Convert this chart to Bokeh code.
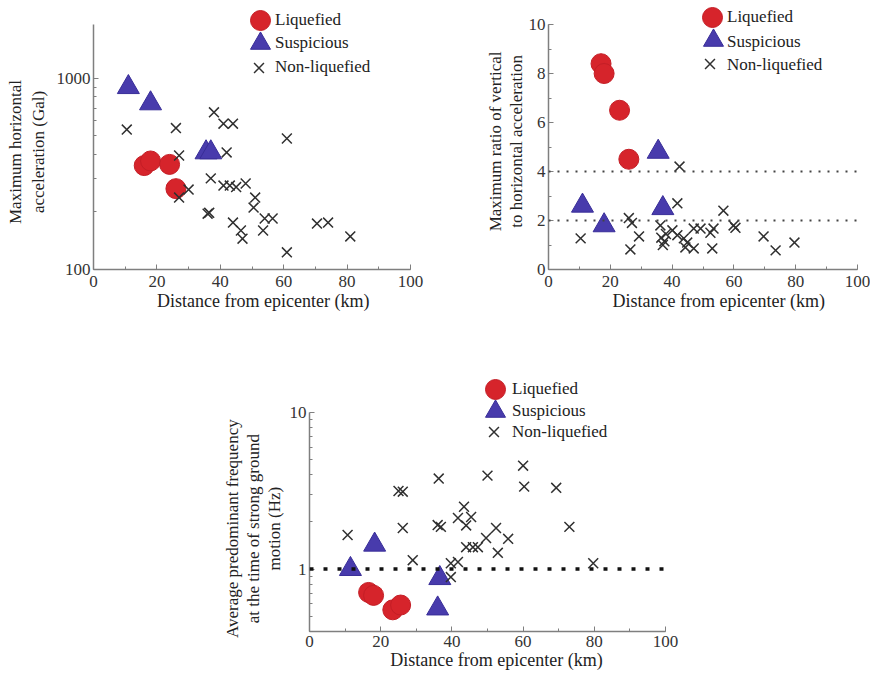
from bokeh.plotting import figure
from bokeh.models import Legend, LegendItem, Span, Range1d, FixedTicker, SingleIntervalTicker, NumeralTickFormatter
from bokeh.layouts import column, row
from bokeh.embed import file_html
from bokeh.resources import INLINE

FONT = "'Liberation Serif', 'Times New Roman', serif"
RED = "#d6242b"
BLUE = "#483bac"
CROSS = "#303030"
AXIS = "#7f7f7f"
NB = "\u00a0"

labels = ["Liquefied", "Suspicious", "Non-liquefied"]
x_label = "Distance from epicenter (km)"

# Panel A: maximum horizontal acceleration (Gal)
liq_a_x = [16, 18, 24, 26]
liq_a_y = [350, 370, 355, 265]
sus_a_x = [11, 18, 35.5, 37]
sus_a_y = [900, 740, 410, 410]
non_a_x = [10.5, 26, 38, 41, 44, 61, 27, 42, 30, 37, 41, 43, 45, 48, 27, 36, 36.5,
           51, 50.5, 44, 46.5, 47, 54, 56.5, 53.5, 61, 70.5, 74, 81]
non_a_y = [540, 550, 665, 580, 580, 485, 395, 410, 262, 300, 275, 275, 270, 282, 238, 196, 198,
           238, 211, 176, 160, 145, 185, 185, 160, 123, 174, 176, 149]
a_ticks = [100, 1000]
a_minor = [200, 300, 400, 500, 600, 700, 800, 900]
a_axis_span = (100, 1920)

# Panel B: ratio of vertical to horizontal acceleration
liq_b_x = [17, 18, 23, 26]
liq_b_y = [8.4, 8.0, 6.5, 4.5]
sus_b_x = [11, 18, 35.5, 37]
sus_b_y = [2.6, 1.8, 4.8, 2.5]
non_b_x = [42.4, 41.7, 10.4, 26, 27, 26.5, 29.3, 36.2, 36.5, 37, 37.5, 38, 40.1, 41.7, 43.8,
           44.9, 44.3, 47, 47, 49.2, 52.4, 53.4, 53, 56.6, 60.5, 59.9, 69.6, 73.5, 79.6]
non_b_y = [4.2, 2.7, 1.27, 2.1, 1.9, 0.82, 1.35, 1.8, 1.3, 1.0, 1.15, 1.45, 1.6, 1.4, 1.27,
           1.1, 0.9, 0.86, 1.67, 1.67, 1.5, 1.67, 0.86, 2.4, 1.7, 1.8, 1.35, 0.78, 1.1]
b_thresholds = [4, 2]
b_axis_span = (0, 10)

# Panel C: average predominant frequency (Hz)
liq_c_x = [16.6, 18, 23.4, 25.6]
liq_c_y = [0.71, 0.68, 0.55, 0.59]
sus_c_x = [11.5, 18.3, 36.6, 36]
sus_c_y = [1.0, 1.43, 0.875, 0.56]
non_c_x = [10.7, 25, 26.2, 26.2, 29, 36.3, 36, 36.9, 39.7, 39.7, 41.7, 41.7, 43.4, 45.4, 44,
           44, 45.9, 47.3, 49.6, 50, 52.4, 52.9, 55.8, 60, 60.3, 69.3, 73, 79.7]
non_c_y = [1.65, 3.15, 3.12, 1.83, 1.14, 3.78, 1.91, 1.86, 1.09, 0.89, 1.11, 2.12, 2.5, 2.15, 1.9,
           1.38, 1.38, 1.38, 1.58, 3.95, 1.83, 1.27, 1.56, 4.57, 3.36, 3.3, 1.86, 1.09]
c_thresholds = [1]
c_ticks = [1, 10]
c_minor = [0.4, 0.5, 0.6, 0.7, 0.8, 0.9, 2, 3, 4, 5, 6, 7, 8, 9]
c_axis_span = (0.4, 10)


def pad_lines(text, n):
    return "\n".join(line + NB * n for line in text.split("\n"))


def make_fig(width, height, left, right, top, bottom, y_range, log=False,
             tick_standoff=6, label_standoff=1, x_shift=0):
    p = figure(width=width, height=height, x_range=Range1d(0, 100), y_range=y_range,
               y_axis_type="log" if log else "linear",
               output_backend="svg", toolbar_location=None,
               min_border_left=left, min_border_right=right,
               min_border_top=top, min_border_bottom=bottom)
    p.outline_line_color = None
    p.grid.visible = False
    p.background_fill_color = "white"
    p.border_fill_color = "white"
    for ax in (p.xaxis[0], p.yaxis[0]):
        ax.axis_line_color = AXIS
        ax.axis_line_width = 1.5
        ax.major_tick_line_color = AXIS
        ax.minor_tick_line_color = AXIS
        ax.major_tick_in = 5
        ax.major_tick_out = 0
        ax.minor_tick_in = 3
        ax.minor_tick_out = 0
        ax.major_label_text_font = FONT
        ax.major_label_text_font_size = "17px"
        ax.major_label_text_color = "#333333"
        ax.axis_label_text_font = FONT
        ax.axis_label_text_font_style = "normal"
        ax.axis_label_text_color = "#222222"
    p.yaxis.axis_label_text_font_size = "17px"
    p.xaxis.axis_label_text_font_size = "18px"
    p.yaxis.major_label_standoff = 3
    p.xaxis.major_label_standoff = tick_standoff
    p.xaxis.ticker = SingleIntervalTicker(interval=20, num_minor_ticks=2)
    p.xaxis.axis_label = NB * x_shift + x_label
    p.xaxis.axis_label_standoff = label_standoff
    return p


def add_points(p, lx, ly, sx, sy, nx, ny):
    r1 = p.scatter(lx, ly, marker="circle", size=20, fill_color=RED, line_color="#c41e26", line_width=1)
    r2 = p.scatter(sx, sy, marker="triangle", size=22, fill_color=BLUE, line_color="#382d98", line_width=1)
    r3 = p.scatter(nx, ny, marker="x", size=14, line_color=CROSS, line_width=1.5)
    return [r1, r2, r3]


def _legend(p, renderer, label, vx, vy, gw, gh):
    lg = Legend(items=[LegendItem(label=label, renderers=[renderer])], location=(vx, vy),
                glyph_width=gw, glyph_height=gh, label_standoff=0,
                padding=0, margin=0, spacing=0, border_line_alpha=0,
                background_fill_alpha=0, label_text_font=FONT,
                label_text_font_size="17px", label_text_color="#222222")
    p.add_layout(lg)


def add_key(p, renderer, label, glyph_pos, glyph, text_pos):
    # marker of the key (its own legend, blank label)
    _legend(p, renderer, " ", glyph_pos[0], glyph_pos[1], glyph, glyph)
    # text of the key (zero-width glyph so only the label shows)
    _legend(p, renderer, label, text_pos[0], text_pos[1], 0, 20)


# ---- Panel A
p1 = make_fig(440, 315, 93, 30, 0, 46, Range1d(100, 2560), log=True, x_shift=5)
p1.yaxis.ticker = FixedTicker(ticks=a_ticks, minor_ticks=a_minor)
p1.yaxis.formatter = NumeralTickFormatter(format="0")
p1.yaxis.bounds = a_axis_span
p1.yaxis.axis_label = pad_lines("Maximum horizontal\nacceleration (Gal)", 8)
p1.yaxis.axis_label_standoff = 6
ra = add_points(p1, liq_a_x, liq_a_y, sus_a_x, sus_a_y, non_a_x, non_a_y)
add_key(p1, ra[0], labels[0], (142, 224), 50, (182, 239))
add_key(p1, ra[1], labels[1], (142, 201), 50, (182, 216))
add_key(p1, ra[2], labels[2], (148, 184), 35, (182, 192))

# ---- Panel B
p2 = make_fig(430, 315, 108, 13, 0, 46, Range1d(0, 10.98), x_shift=7)
p2.yaxis.ticker = SingleIntervalTicker(interval=2, num_minor_ticks=2)
p2.yaxis.bounds = b_axis_span
p2.yaxis.axis_label = pad_lines("Maximum ratio of vertical\nto horizontal acceleration", 3)
p2.yaxis.axis_label_standoff = 0
p2.yaxis.axis_label_text_line_height = 1.1
for t in b_thresholds:
    p2.add_layout(Span(location=t, dimension="width", line_color="#444444",
                       line_width=2, line_dash="2 7"))
rb = add_points(p2, liq_b_x, liq_b_y, sus_b_x, sus_b_y, non_b_x, non_b_y)
add_key(p2, rb[0], labels[0], (139, 227), 50, (179, 242))
add_key(p2, rb[1], labels[1], (140, 204), 50, (179, 217))
add_key(p2, rb[2], labels[2], (144, 188), 35, (179, 194))

# ---- Panel C
p3 = make_fig(690, 358, 309, 25, 55, 42, Range1d(0.4, 18.5), log=True,
              tick_standoff=4, label_standoff=0, x_shift=4)
p3.yaxis.ticker = FixedTicker(ticks=c_ticks, minor_ticks=c_minor)
p3.yaxis.formatter = NumeralTickFormatter(format="0")
p3.yaxis.bounds = c_axis_span
p3.yaxis.axis_label = pad_lines("Average predominant frequency\nat the time of strong ground\nmotion (Hz)", 13)
p3.yaxis.axis_label_standoff = 3
p3.yaxis.axis_label_text_line_height = 1.1
for t in c_thresholds:
    p3.add_layout(Span(location=t, dimension="width", line_color="#111111",
                       line_width=3.5, line_dash="4 10"))
rc = add_points(p3, liq_c_x, liq_c_y, sus_c_x, sus_c_y, non_c_x, non_c_y)
add_key(p3, rc[0], labels[0], (161, 217), 50, (203, 232))
add_key(p3, rc[1], labels[1], (161, 195), 50, (203, 210))
add_key(p3, rc[2], labels[2], (167, 182), 35, (203, 189))

layout = column(row(p1, p2), p3)
open("out.html", "w").write(file_html(layout, INLINE))
